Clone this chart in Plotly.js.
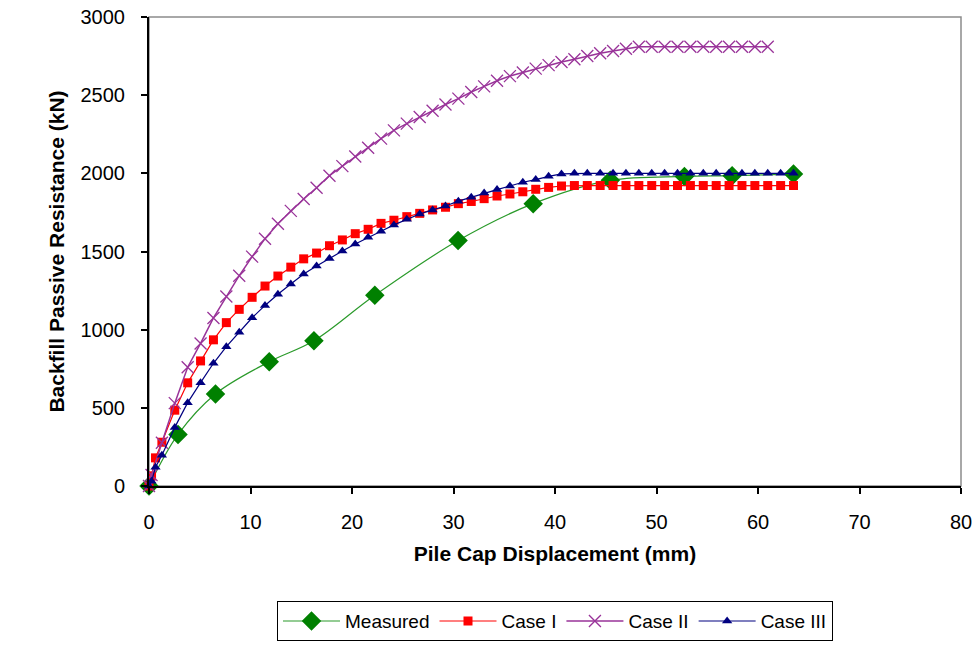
<!DOCTYPE html>
<html>
<head>
<meta charset="utf-8">
<script src="https://cdn.plot.ly/plotly-3.0.1.min.js"></script>
<style>html,body{margin:0;padding:0;background:#fff;}#chart{width:974px;height:645px;}</style>
</head>
<body>
<div id="chart"></div>
<script>
// Measured
const measuredX = [0, 2.86, 6.55, 11.85, 16.25, 22.25, 30.45, 37.85, 45.45, 52.75, 57.45, 63.5];
const measuredY = [0, 330, 589, 795, 929, 1220, 1570, 1806, 1955, 1980, 1985, 1995];

// Common displacement grid for analyses (mm)
const caseX = [0, 0.25, 0.64, 1.27, 2.54, 3.81, 5.08, 6.35, 7.62, 8.89, 10.16, 11.43, 12.70, 13.97, 15.24, 16.51, 17.78, 19.05, 20.32, 21.59, 22.86, 24.13, 25.40, 26.67, 27.94, 29.21, 30.48, 31.75, 33.02, 34.29, 35.56, 36.83, 38.10, 39.37, 40.64, 41.91, 43.18, 44.45, 45.72, 46.99, 48.26, 49.53, 50.80, 52.07, 53.34, 54.61, 55.88, 57.15, 58.42, 59.69, 60.96, 62.23, 63.50];

const case1Y = [0, 65, 180, 280, 485, 660, 800, 935, 1045, 1130, 1207, 1279, 1343, 1400, 1453, 1490, 1537, 1574, 1614, 1642, 1680, 1700, 1723, 1744, 1766, 1783, 1806, 1820, 1838, 1855, 1868, 1882, 1898, 1910, 1919, 1922, 1922, 1922, 1922, 1922, 1922, 1922, 1922, 1922, 1922, 1922, 1922, 1922, 1922, 1922, 1922, 1922, 1922];

const case2X = [0, 0.25, 1.27, 2.54, 3.81, 5.08, 6.35, 7.62, 8.89, 10.16, 11.43, 12.70, 13.97, 15.24, 16.51, 17.78, 19.05, 20.32, 21.59, 22.86, 24.13, 25.40, 26.67, 27.94, 29.21, 30.48, 31.75, 33.02, 34.29, 35.56, 36.83, 38.10, 39.37, 40.64, 41.91, 43.18, 44.45, 45.72, 46.99, 48.26, 49.53, 50.80, 52.07, 53.34, 54.61, 55.88, 57.15, 58.42, 59.69, 60.96];
const case2Y = [0, 70, 277, 530, 760, 912, 1075, 1212, 1345, 1467, 1582, 1678, 1760, 1836, 1908, 1985, 2046, 2108, 2164, 2222, 2275, 2318, 2360, 2400, 2440, 2478, 2520, 2556, 2592, 2622, 2645, 2670, 2692, 2712, 2730, 2750, 2768, 2783, 2797, 2810, 2810, 2810, 2810, 2810, 2810, 2810, 2810, 2810, 2810, 2810];

const case3Y = [0, 30, 120, 197, 375, 533, 661, 785, 891, 984, 1076, 1155, 1227, 1292, 1356, 1407, 1456, 1503, 1548, 1591, 1630, 1670, 1706, 1740, 1766, 1791, 1822, 1847, 1874, 1896, 1919, 1943, 1960, 1981, 1996, 2000, 2000, 2000, 2000, 2000, 2000, 2000, 2000, 2000, 2000, 2000, 2000, 2000, 2000, 2000, 2000, 2000, 2000];

const seriesNames = ['Measured', 'Case I', 'Case II', 'Case III'];
const xTicks = [0, 10, 20, 30, 40, 50, 60, 70, 80];
const yTicks = [0, 500, 1000, 1500, 2000, 2500, 3000];

const traces = [
  {x: measuredX, y: measuredY, name: seriesNames[0], mode: 'lines+markers', type: 'scatter',
   line: {color: '#2a9a2a', width: 1.2, shape: 'spline', smoothing: 1},
   marker: {symbol: 'diamond', size: 15, color: '#008000'}, cliponaxis: false},
  {x: caseX, y: case1Y, name: seriesNames[1], mode: 'lines+markers', type: 'scatter',
   line: {color: '#ff0000', width: 1.2},
   marker: {symbol: 'square', size: 9, color: '#ff0000'}, cliponaxis: false},
  {x: case2X, y: case2Y, name: seriesNames[2], mode: 'lines+markers', type: 'scatter',
   line: {color: '#993399', width: 1.5},
   marker: {symbol: 'x-thin-open', size: 12, color: '#993399', line: {color: '#993399', width: 1.3}}, cliponaxis: false},
  {x: caseX, y: case3Y, name: seriesNames[3], mode: 'lines+markers', type: 'scatter',
   line: {color: '#000080', width: 1.2},
   marker: {symbol: 'triangle-up', size: 9, color: '#000080'}, cliponaxis: false}
];

const font = {family: '"Liberation Sans", Arial, sans-serif', color: '#000'};

const layout = {
  width: 974, height: 645,
  margin: {l: 149, r: 13, t: 17, b: 159, autoexpand: false},
  paper_bgcolor: '#fff', plot_bgcolor: '#fff',
  font: Object.assign({size: 20}, font),
  showlegend: true,
  legend: {orientation: 'h', x: 0.5, xanchor: 'center', yref: 'container', y: 0.068, yanchor: 'top',
           bordercolor: '#000', borderwidth: 1, bgcolor: '#fff',
           font: Object.assign({size: 19}, font), itemwidth: 57,
           traceorder: 'normal'},
  xaxis: {range: [0, 80], tickvals: xTicks, ticktext: xTicks.map(String), automargin: false,
          showgrid: false, zeroline: false, showline: true, linecolor: '#000', linewidth: 2,
          ticks: 'outside', ticklen: 6, tickwidth: 2, tickcolor: '#000',
          tickfont: Object.assign({size: 20}, font), ticklabelstandoff: 11,
          title: {text: '<b>Pile Cap Displacement (mm)</b>', font: Object.assign({size: 21}, font), standoff: 14}},
  yaxis: {range: [0, 3000], tickvals: yTicks, ticktext: yTicks.map(String), automargin: false,
          showgrid: false, zeroline: false, showline: true, linecolor: '#000', linewidth: 2,
          ticks: 'outside', ticklen: 6, tickwidth: 2, tickcolor: '#000',
          tickfont: Object.assign({size: 20}, font), ticklabelstandoff: 12,
          title: {text: '<b>Backfill Passive Resistance (kN)</b>', font: Object.assign({size: 21}, font), standoff: 10}},
  shapes: [{type: 'rect', xref: 'paper', yref: 'paper', x0: 0, x1: 1, y0: 0, y1: 1,
            line: {color: '#8c8c8c', width: 1.5}, layer: 'below'}]
};

Plotly.newPlot('chart', traces, layout, {displayModeBar: false, staticPlot: true});
</script>
</body>
</html>
